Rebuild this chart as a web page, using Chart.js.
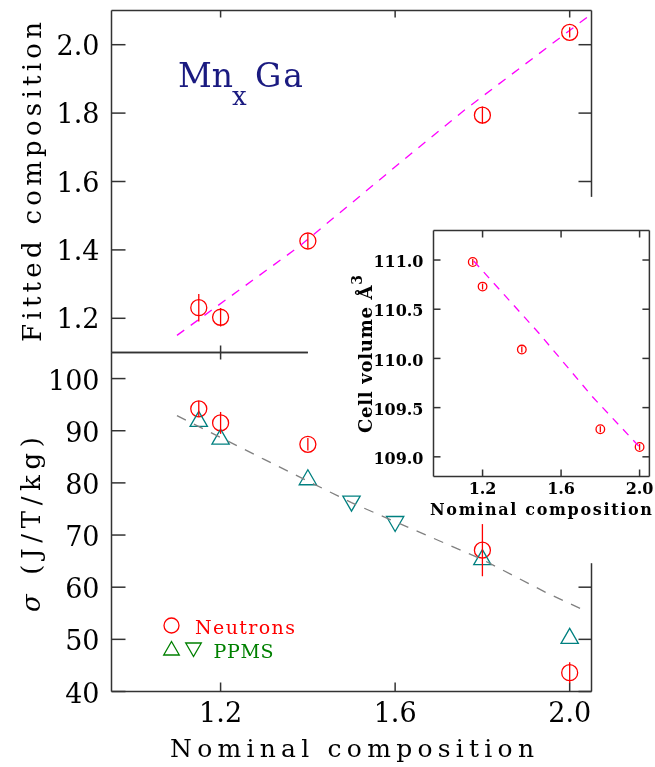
<!DOCTYPE html>
<html>
<head>
<meta charset="utf-8">
<script src="https://cdn.jsdelivr.net/npm/chart.js@4.4.0/dist/chart.umd.min.js"></script>
<style>
  body { margin: 0; background: #fff; }
  #wrap { position: relative; width: 655px; height: 767px; }
  #wrap canvas { position: absolute; left: 0; top: 0; }
</style>
</head>
<body>
<div id="wrap">
  <canvas id="topChart" width="655" height="767"></canvas>
  <canvas id="bottomChart" width="655" height="767"></canvas>
  <canvas id="insetChart" width="655" height="767"></canvas>
</div>
<script>
// ---------- data ----------
const xTicks = [1.2, 1.6, 2.0];

// upper panel: fitted vs nominal composition
const fitX = [1.15, 1.2, 1.4, 1.8, 2.0];
const fitY = [1.231, 1.203, 1.426, 1.794, 2.036];
const fitErr = [0.04, 0.027, 0.022, 0.025, 0.015];
const fitLineX = [1.1, 1.38, 1.64, 1.76, 2.05];
const fitLineY = [1.15, 1.41, 1.685, 1.81, 2.09];
const fitTicks = [1.2, 1.4, 1.6, 1.8, 2.0];

// lower panel: magnetisation
const neutronX = [1.15, 1.2, 1.4, 1.8, 2.0];
const neutronY = [94.2, 91.5, 87.4, 67.1, 43.6];
const neutronErr = [1.5, 2.1, 1.2, 5.0, 2.0];
const ppmsUpX = [1.15, 1.2, 1.4, 1.8, 2.0];
const ppmsUpY = [91.8, 88.4, 80.6, 65.3, 50.2];
const ppmsDownX = [1.5, 1.6];
const ppmsDownY = [76.5, 72.6];
const momentLineX = [1.1, 1.3, 1.5, 1.8, 1.95, 2.03];
const momentLineY = [92.9, 84.5, 76.2, 65.3, 58.8, 55.7];
const momentTicks = [40, 50, 60, 70, 80, 90, 100];

// inset: cell volume
const volX = [1.15, 1.2, 1.4, 1.8, 2.0];
const volY = [110.98, 110.73, 110.09, 109.28, 109.10];
const volErr = [0.03, 0.03, 0.03, 0.03, 0.03];
const volLineX = [1.155, 1.49, 1.76, 2.0];
const volLineY = [110.99, 110.25, 109.61, 109.1];
const volTicks = [109.0, 109.5, 110.0, 110.5, 111.0];

// ---------- helpers ----------
const FONT = "'DejaVu Serif', serif";
const AXIS_COLOR = '#333';
Chart.defaults.font.family = FONT;
Chart.defaults.color = '#000';
Chart.defaults.animation = false;

const pts = (xs, ys) => xs.map((x, i) => ({ x: x, y: ys[i] }));

// scale with a fixed tick list; "size" is the room the axis box takes (labels are clipped to it)
function axisScale(min, max, ticks, size, tickOpts) {
  return {
    type: 'linear', min: min, max: max,
    grid: { display: false, drawTicks: false },
    border: { display: false },
    ticks: Object.assign({ maxRotation: 0, autoSkip: false }, tickOpts),
    afterBuildTicks: s => { s.ticks = ticks.map(v => ({ value: v })); },
    afterFit: s => {
      if (s.isHorizontal()) s.height = size; else s.width = size;
      s.paddingLeft = s.paddingRight = s.paddingTop = s.paddingBottom = 0;
    }
  };
}

// text centred on (ox, oy) baseline, letter-spaced to a given width, optionally rotated
function drawSpaced(ctx, parts, ox, oy, width, rotate) {
  ctx.save();
  ctx.translate(ox, oy);
  if (rotate) ctx.rotate(-Math.PI / 2);
  ctx.textAlign = 'left';
  ctx.textBaseline = 'alphabetic';
  let w0 = 0, n = 0;
  parts.forEach(p => {
    ctx.font = p.font; ctx.letterSpacing = '0px';
    p.w = ctx.measureText(p.t).width;
    w0 += p.w; n += [...p.t].length;
  });
  const sp = width ? (width - w0) / Math.max(n - 1, 1) : 0;
  let x = -(w0 + sp * (n - 1)) / 2;
  parts.forEach(p => {
    ctx.font = p.font; ctx.fillStyle = p.color; ctx.letterSpacing = sp + 'px';
    ctx.fillText(p.t, x, p.dy || 0);
    x += p.w + sp * [...p.t].length;
  });
  ctx.restore();
}

// axis box with inward tick marks, each side drawn only over its value range
const framePlugin = {
  id: 'frame',
  beforeDatasetsDraw(chart, args, o) {
    const ctx = chart.ctx, a = chart.chartArea;
    const xs = chart.scales.x, ys = chart.scales.y;
    ctx.save();
    ctx.strokeStyle = AXIS_COLOR;
    ctx.lineWidth = 1.5;
    const seg = (x1, y1, x2, y2) => { ctx.beginPath(); ctx.moveTo(x1, y1); ctx.lineTo(x2, y2); ctx.stroke(); };
    ['left', 'right', 'top', 'bottom'].forEach(side => {
      const s = o[side];
      if (!s) return;
      const vert = side === 'left' || side === 'right';
      const axis = vert ? ys : xs;
      const dir = (side === 'left' || side === 'top') ? 1 : -1;
      const pos = a[side];
      const p1 = axis.getPixelForValue(s.from), p2 = axis.getPixelForValue(s.to);
      if (vert) seg(pos, p1, pos, p2); else seg(p1, pos, p2, pos);
      const lo = Math.min(s.from, s.to), hi = Math.max(s.from, s.to);
      axis.ticks.forEach(t => {
        if (t.value < lo || t.value > hi) return;
        const p = axis.getPixelForValue(t.value);
        if (vert) seg(pos, p, pos + dir * s.tick, p); else seg(p, pos, p, pos + dir * s.tick);
      });
    });
    ctx.restore();
  }
};

// vertical error bars for datasets that carry an "errors" list
const errorBarPlugin = {
  id: 'errorBars',
  afterDatasetsDraw(chart) {
    const ctx = chart.ctx, ys = chart.scales.y;
    chart.data.datasets.forEach((ds, i) => {
      if (!ds.errors) return;
      const meta = chart.getDatasetMeta(i);
      ctx.save();
      ctx.strokeStyle = ds.borderColor;
      ctx.lineWidth = ds.borderWidth;
      meta.data.forEach((pt, j) => {
        const v = ds.data[j].y, e = ds.errors[j];
        ctx.beginPath();
        ctx.moveTo(pt.x, ys.getPixelForValue(v - e));
        ctx.lineTo(pt.x, ys.getPixelForValue(v + e));
        ctx.stroke();
      });
      ctx.restore();
    });
  }
};

const baseOptions = (padding, scales, frame) => ({
  responsive: false,
  devicePixelRatio: 1,
  events: [],
  layout: { padding: padding },
  scales: scales,
  plugins: { legend: { display: false }, tooltip: { enabled: false }, frame: frame }
});

const fmt1 = v => Number(v).toFixed(1);
const mainTicks = { size: 27, family: FONT };
const insetTicks = { size: 16, family: FONT, weight: 'bold' };

// ---------- upper panel ----------
new Chart(document.getElementById('topChart'), {
  type: 'scatter',
  data: { datasets: [
    { data: pts(fitLineX, fitLineY), showLine: true, pointRadius: 0, borderColor: '#ff00ff', borderWidth: 1.3, borderDash: [9, 8] },
    { data: pts(fitX, fitY), errors: fitErr, pointStyle: 'circle', pointRadius: 8, borderColor: '#ff0000', backgroundColor: 'transparent', borderWidth: 1.3 }
  ]},
  options: baseOptions(
    { left: 0, top: 10.5, right: 63.5, bottom: 414.5 },
    {
      x: axisScale(0.95, 2.05, xTicks, 0, { display: false }),
      y: axisScale(1.1, 2.1, fitTicks, 111.5, { padding: 12, labelOffset: 3, font: mainTicks, callback: fmt1 })
    },
    {
      left: { from: 1.1, to: 2.1, tick: 14 },
      right: { from: 1.555, to: 2.1, tick: 13 },
      top: { from: 0.95, to: 2.05, tick: 7 },
      bottom: { from: 0.95, to: 1.4, tick: 7 }
    }
  ),
  plugins: [framePlugin, errorBarPlugin, {
    id: 'topText',
    afterDraw(chart) {
      const ctx = chart.ctx;
      drawSpaced(ctx, [{ t: 'Fitted composition', font: '26px ' + FONT, color: '#000' }], 40.5, 182, 320, true);
      ctx.save();
      ctx.fillStyle = '#1a1a80';
      ctx.font = '33px ' + FONT;
      ctx.fillText('Mn', 178, 87);
      ctx.font = '26px ' + FONT;
      ctx.fillText('x', 232, 105);
      ctx.font = '33px ' + FONT;
      ctx.letterSpacing = '2px';
      ctx.fillText('Ga', 255, 87);
      ctx.restore();
    }
  }]
});

// ---------- lower panel ----------
new Chart(document.getElementById('bottomChart'), {
  type: 'scatter',
  data: { datasets: [
    { data: pts(momentLineX, momentLineY), showLine: true, pointRadius: 0, borderColor: '#808080', borderWidth: 1.3, borderDash: [10, 9] },
    { data: pts(ppmsUpX, ppmsUpY), pointStyle: 'triangle', pointRadius: 10, borderColor: '#008080', backgroundColor: 'transparent', borderWidth: 1.3 },
    { data: pts(ppmsDownX, ppmsDownY), pointStyle: 'triangle', rotation: 180, pointRadius: 10, borderColor: '#008080', backgroundColor: 'transparent', borderWidth: 1.3 },
    { data: pts(neutronX, neutronY), errors: neutronErr, pointStyle: 'circle', pointRadius: 8, borderColor: '#ff0000', backgroundColor: 'transparent', borderWidth: 1.3 }
  ]},
  options: baseOptions(
    { left: 0, top: 352.5, right: 63.5, bottom: 0 },
    {
      x: axisScale(0.95, 2.05, xTicks, 75.5, { padding: 7, font: mainTicks, callback: fmt1 }),
      y: axisScale(40, 105, momentTicks, 111.5, { padding: 12, labelOffset: 4, font: mainTicks })
    },
    {
      left: { from: 40, to: 105, tick: 14 },
      right: { from: 40, to: 64.6, tick: 13 },
      top: { from: 0.95, to: 1.4, tick: 7 },
      bottom: { from: 0.95, to: 2.05, tick: 9 }
    }
  ),
  plugins: [framePlugin, errorBarPlugin, {
    id: 'bottomText',
    afterDraw(chart) {
      const ctx = chart.ctx;
      drawSpaced(ctx, [{ t: 'Nominal composition', font: '25px ' + FONT, color: '#000' }], 352, 756.5, 364, false);
      drawSpaced(ctx, [
        { t: 'σ', font: 'italic 26px ' + FONT, color: '#000' },
        { t: ' (J/T/kg)', font: '26px ' + FONT, color: '#000' }
      ], 40, 524.5, 175, true);

      // legend
      ctx.save();
      ctx.fillStyle = 'transparent';
      ctx.lineWidth = 1.3;
      ctx.strokeStyle = '#ff0000';
      Chart.helpers.drawPoint(ctx, { pointStyle: 'circle', radius: 7.5, rotation: 0, borderWidth: 1.3 }, 171.5, 625.5);
      ctx.strokeStyle = '#008000';
      Chart.helpers.drawPoint(ctx, { pointStyle: 'triangle', radius: 9, rotation: 0, borderWidth: 1.3 }, 171.5, 650.5);
      Chart.helpers.drawPoint(ctx, { pointStyle: 'triangle', radius: 9, rotation: 180, borderWidth: 1.3 }, 193.5, 647.5);
      ctx.restore();
      drawSpaced(ctx, [{ t: 'Neutrons', font: '19px ' + FONT, color: '#ff0000' }], 245, 633.5, 100, false);
      drawSpaced(ctx, [{ t: 'PPMS', font: '19px ' + FONT, color: '#008000' }], 243.5, 657.5, 60, false);
    }
  }]
});

// ---------- inset ----------
new Chart(document.getElementById('insetChart'), {
  type: 'scatter',
  data: { datasets: [
    { data: pts(volLineX, volLineY), showLine: true, pointRadius: 0, borderColor: '#ff00ff', borderWidth: 1.3, borderDash: [8, 7] },
    { data: pts(volX, volY), errors: volErr, pointStyle: 'circle', pointRadius: 4.3, borderColor: '#ff0000', backgroundColor: 'transparent', borderWidth: 1.3 }
  ]},
  options: baseOptions(
    { left: 0, top: 230.5, right: 3.5, bottom: 0 },
    {
      x: axisScale(0.95, 2.05, xTicks, 290.5, { padding: 4, font: insetTicks, callback: fmt1 }),
      y: axisScale(108.8, 111.3, volTicks, 433.5, { padding: 10, labelOffset: 3, font: insetTicks, callback: fmt1 })
    },
    {
      left: { from: 108.8, to: 111.3, tick: 7 },
      right: { from: 108.8, to: 111.3, tick: 7 },
      top: { from: 0.95, to: 2.05, tick: 7 },
      bottom: { from: 0.95, to: 2.05, tick: 7 }
    }
  ),
  plugins: [framePlugin, errorBarPlugin, {
    id: 'insetText',
    afterDraw(chart) {
      const ctx = chart.ctx;
      drawSpaced(ctx, [{ t: 'Nominal composition', font: 'bold 16px ' + FONT, color: '#000' }], 541, 515, 222, false);
      drawSpaced(ctx, [
        { t: 'Cell volume Å', font: 'bold 18px ' + FONT, color: '#000' },
        { t: '3', font: 'bold 14px ' + FONT, color: '#000', dy: -10 }
      ], 372, 354, 158, true);
    }
  }]
});
</script>
</body>
</html>
